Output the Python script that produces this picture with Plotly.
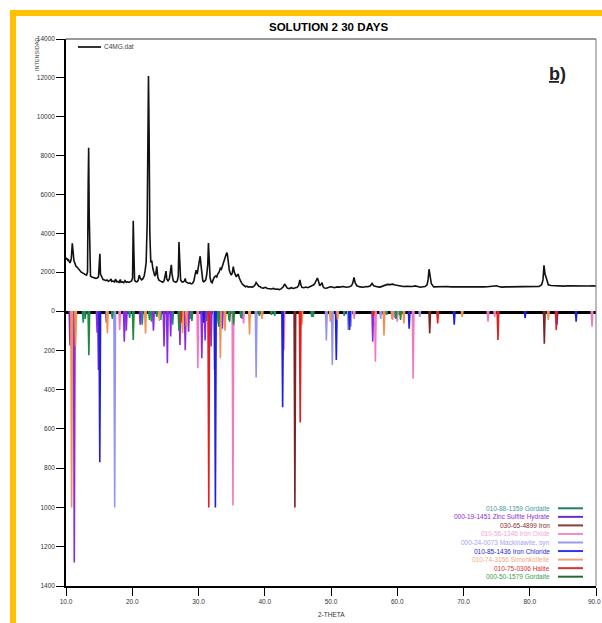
import plotly.graph_objects as go

# ---------------- data ----------------
two_theta = [
    10.0, 10.1, 10.2, 10.3, 10.4, 10.5, 10.6, 10.7, 10.8, 10.95,
    11.1, 11.2, 11.35, 11.5, 11.7, 11.9, 12.1, 12.3, 12.5, 12.7,
    12.9, 13.1, 13.25, 13.35, 13.42, 13.5, 13.6, 13.7, 13.9, 14.1,
    14.3, 14.5, 14.7, 14.9, 15.05, 15.12, 15.2, 15.4, 15.6, 15.8,
    16.0, 16.2, 16.4, 16.6, 16.8, 16.9, 17.1, 17.3, 17.5, 17.6,
    17.8, 18.0, 18.2, 18.3, 18.5, 18.7, 18.9, 19.1, 19.3, 19.5,
    19.7, 19.9, 20.05, 20.15, 20.25, 20.35, 20.5, 20.7, 20.9, 21.05,
    21.2, 21.4, 21.6, 21.8, 21.95, 22.1, 22.25, 22.35, 22.45, 22.55,
    22.65, 22.8, 22.95, 23.1, 23.25, 23.4, 23.55, 23.7, 23.85, 24.0,
    24.2, 24.4, 24.6, 24.8, 24.95, 25.1, 25.2, 25.4, 25.6, 25.8,
    25.9, 26.0, 26.2, 26.4, 26.6, 26.8, 26.95, 27.05, 27.15, 27.3,
    27.5, 27.7, 27.9, 28.0, 28.1, 28.3, 28.5, 28.7, 28.9, 29.1,
    29.3, 29.5, 29.65, 29.8, 29.95, 30.1, 30.25, 30.4, 30.5, 30.65,
    30.8, 30.95, 31.1, 31.25, 31.4, 31.5, 31.6, 31.75, 31.9, 32.05,
    32.2, 32.4, 32.6, 32.75, 32.9, 33.1, 33.3, 33.45, 33.6, 33.8,
    33.95, 34.1, 34.25, 34.35, 34.5, 34.65, 34.8, 34.95, 35.1, 35.25,
    35.4, 35.55, 35.7, 35.85, 36.0, 36.15, 36.3, 36.5, 36.7, 36.9,
    37.1, 37.3, 37.5, 37.7, 37.9, 38.1, 38.3, 38.5, 38.7, 38.9,
    39.1, 39.3, 39.5, 39.8, 40.1, 40.4, 40.7, 41.0, 41.3, 41.6,
    41.9, 42.2, 42.5, 42.8, 43.0, 43.2, 43.4, 43.7, 44.0, 44.3,
    44.6, 44.9, 45.1, 45.3, 45.45, 45.6, 45.9, 46.2, 46.5, 46.8,
    47.1, 47.4, 47.6, 47.8, 47.95, 48.1, 48.3, 48.5, 48.65, 48.8,
    49.0, 49.3, 49.6, 49.9, 50.2, 50.5, 50.9, 51.3, 51.8, 52.3,
    52.8, 53.1, 53.3, 53.47, 53.65, 53.9, 54.4, 54.9, 55.3, 55.6,
    55.95, 56.2, 56.45, 56.8, 57.1, 57.4, 57.8, 58.15, 58.5, 58.9,
    59.3, 59.7, 60.2, 60.6, 60.9, 61.4, 61.9, 62.3, 62.7, 63.1,
    63.5, 63.9, 64.2, 64.5, 64.65, 64.8, 64.95, 65.15, 65.5, 66.0,
    66.5, 67.0, 67.5, 68.1, 68.8, 69.4, 70.0, 70.7, 71.5, 72.2,
    73.0, 73.6, 74.3, 74.75, 75.0, 75.3, 75.8, 76.4, 77.1, 77.8,
    78.6, 79.3, 80.1, 80.8, 81.4, 81.8, 82.0, 82.15, 82.3, 82.5,
    82.8, 83.2, 83.6, 84.3, 85.1, 85.8, 86.6, 87.3, 88.1, 88.9,
    89.5, 90.0,
]
intensity = [
    2750, 2650, 2700, 2580, 2620, 2500, 2480, 2560, 2700, 3480,
    2620, 2580, 2450, 2300, 2250, 2150, 2060, 2000, 1960, 1900,
    1880, 1850, 2000, 6500, 8400, 5000, 1950, 1800, 1750, 1720,
    1700, 1680, 1700, 1750, 2600, 2950, 1900, 1700, 1620, 1600,
    1560, 1600, 1530, 1560, 1650, 1520, 1540, 1500, 1640, 1500,
    1520, 1470, 1620, 1480, 1500, 1460, 1560, 1480, 1500, 1470,
    1520, 1550, 1700, 4650, 3000, 1600, 1520, 1500, 1580, 1850,
    1700, 1600, 1650, 1800, 2100, 2500, 4500, 9400, 12100, 9000,
    4000, 2500, 2600, 2200, 1900, 1800, 1900, 2300, 1750, 1600,
    1550, 1500, 1480, 1550, 1750, 2050, 1650, 1550, 1650, 2100,
    2380, 1900, 1550, 1500, 1480, 1550, 1800, 3550, 2400, 1600,
    1500, 1500, 1550, 1680, 1500, 1450, 1420, 1450, 1400, 1420,
    1550, 1900, 2100, 1900, 2150, 2500, 2820, 2300, 1800, 1550,
    1500, 1550, 1600, 1900, 2400, 3500, 2200, 1700, 1500, 1450,
    1600, 1750, 1800, 1750, 1900, 2000, 2200, 2150, 2300, 2500,
    2600, 2750, 3000, 2950, 2500, 2100, 1950, 1850, 1950, 2280,
    2000, 1800, 1750, 1850, 1900, 1700, 1550, 1450, 1350, 1320,
    1250, 1280, 1230, 1250, 1220, 1230, 1260, 1320, 1460, 1330,
    1270, 1250, 1200, 1180, 1220, 1160, 1150, 1130, 1160, 1120,
    1130, 1100, 1150, 1250, 1390, 1280, 1180, 1150, 1200, 1160,
    1180, 1220, 1300, 1600, 1350, 1220, 1200, 1230, 1200, 1250,
    1270, 1350, 1450, 1600, 1700, 1550, 1300, 1380, 1460, 1250,
    1180, 1170, 1230, 1250, 1240, 1200, 1240, 1230, 1260, 1220,
    1250, 1300, 1450, 1730, 1450, 1300, 1240, 1220, 1260, 1250,
    1300, 1420, 1300, 1250, 1240, 1230, 1290, 1330, 1370, 1360,
    1380, 1340, 1300, 1280, 1260, 1270, 1250, 1260, 1290, 1250,
    1220, 1250, 1260, 1350, 1600, 2150, 1700, 1400, 1240, 1250,
    1230, 1250, 1260, 1240, 1220, 1240, 1250, 1240, 1230, 1250,
    1240, 1250, 1260, 1280, 1300, 1260, 1230, 1240, 1240, 1260,
    1250, 1240, 1240, 1260, 1270, 1350, 1600, 2350, 1900, 1700,
    1350, 1310, 1300, 1290, 1280, 1300, 1290, 1300, 1300, 1290,
    1300, 1280,
]
assert len(two_theta) == len(intensity)

phase_names = [
    "010-88-1359 Gordaite",
    "000-19-1451 Zinc Sulfite Hydrate",
    "030-65-4899 Iron",
    "010-56-1346 Iron Oxide",
    "000-24-0073 Mackinawite, syn",
    "010-85-1436 Iron Chloride",
    "010-74-3156 Simonkolleite",
    "010-75-0306 Halite",
    "000-50-1579 Gordaite",
]
phase_positions = [
    [12.6, 17.0, 19.6, 21.5, 22.9, 24.3, 26.1, 28.8, 31.2, 33.0, 34.6, 36.4, 41.5, 47.1, 52.0, 58.4, 60.3],
    [10.6, 11.25, 14.7, 14.9, 16.1, 18.8, 19.1, 21.2, 23.2, 24.8, 25.3, 25.8, 27.2, 28.0, 28.5, 30.5, 31.0, 31.9, 33.6, 36.6, 56.3],
    [44.55, 64.9, 82.2],
    [18.1, 29.9, 35.2, 36.8, 42.9, 53.5, 56.7, 59.3, 60.0, 62.4, 73.7, 74.7, 89.4],
    [17.35, 32.4, 38.7, 49.3, 50.2, 52.6, 53.0, 57.5, 59.6, 63.4],
    [15.1, 30.8, 32.55, 42.7, 50.8, 52.8, 61.8, 68.6, 79.3, 84.1, 87.0],
    [10.85, 11.45, 16.25, 22.0, 24.1, 27.6, 28.2, 33.3, 34.0, 37.7, 39.6, 45.6, 49.9, 51.0, 58.0, 59.2, 61.0, 69.8, 82.8],
    [27.35, 31.55, 45.35, 56.4, 66.1, 75.2, 84.0],
    [12.9, 13.45, 17.0, 20.15, 22.6, 23.7, 27.05, 29.0, 33.05, 34.7, 35.3, 36.5, 39.2, 41.0, 47.3, 59.8, 60.5],
]
phase_intensities = [
    [60, 40, 35, 70, 55, 45, 70, 40, 50, 65, 45, 35, 25, 30, 25, 20, 20],
    [175, 1280, 110, 300, 60, 156, 100, 70, 100, 180, 266, 130, 173, 200, 105, 241, 150, 180, 90, 40, 156],
    [1000, 114, 166],
    [97, 292, 990, 63, 200, 40, 258, 45, 55, 345, 55, 30, 80],
    [1000, 300, 338, 150, 275, 97, 80, 40, 35, 30],
    [770, 60, 1000, 490, 250, 97, 90, 70, 37, 70, 55],
    [1000, 180, 113, 115, 50, 113, 80, 240, 100, 120, 40, 70, 55, 45, 125, 40, 63, 30, 45],
    [60, 1000, 568, 25, 63, 148, 97],
    [40, 225, 30, 148, 45, 30, 100, 50, 80, 55, 70, 30, 25, 20, 30, 40, 45],
]
phase_colors = ["#1e8a78", "#8a2be2", "#7a2525", "#f07ac0", "#9494f4",
                "#1f1fe0", "#f5904f", "#e81e1e", "#1f8a40"]
legend_text_colors = ["#3c9d9b", "#8f2bd8", "#8b2d2d", "#f2a6d2", "#a3a3ef",
                      "#2626d6", "#f4aa85", "#e02f2f", "#35a048"]
legend_line_colors = ["#1e7f6a", "#6b2bd0", "#8a3b3b", "#f08cc8", "#9a9af2",
                      "#3434f0", "#f5a078", "#d83232", "#226b35"]

x_ticks = [10, 20, 30, 40, 50, 60, 70, 80, 90]
x_tick_labels = ["10.0", "20.0", "30.0", "40.0", "50.0", "60.0", "70.0", "80.0", "90.0"]
top_ticks = [2000, 4000, 6000, 8000, 10000, 12000, 14000]
bottom_ticks = [0, 200, 400, 600, 800, 1000, 1200, 1400]

# ---------------- geometry ----------------
W, H = 602, 623
L, R, T, B = 66, 6, 39, 37
PW, PH = W - L - R, H - T - B


def px(x):
    return (x - L) / PW


def py(y):
    return (H - B - y) / PH


split = py(311)
FONT = "Arial, Liberation Sans, sans-serif"

fig = go.Figure()
fig.add_trace(go.Scatter(x=two_theta, y=intensity, mode="lines",
                         line=dict(color="#111111", width=1.6),
                         xaxis="x", yaxis="y", showlegend=False, hoverinfo="skip"))

hw = 0.12
for name, pos, ints, col in zip(phase_names, phase_positions, phase_intensities, phase_colors):
    xs, ys = [], []
    for p, v in zip(pos, ints):
        xs += [p - hw, p, p + hw, None]
        ys += [0, v, 0, None]
    fig.add_trace(go.Scatter(x=xs, y=ys, mode="lines", name=name,
                             line=dict(color=col, width=1.6),
                             xaxis="x2", yaxis="y2", showlegend=False, hoverinfo="skip"))

tickfont = dict(family=FONT, size=6.5, color="#333333")
# last x label (at the right edge) is drawn as an annotation so it stays inside the page
shown_x_labels = x_tick_labels[:-1] + [""]
fig.update_layout(
    width=W, height=H,
    margin=dict(l=L, r=R, t=T, b=B),
    paper_bgcolor="white", plot_bgcolor="white",
    showlegend=False,
    xaxis=dict(domain=[0, 1], range=[10, 90], anchor="y", showticklabels=False, ticks="",
               showgrid=False, zeroline=False, showline=True, linecolor="black", linewidth=2.5),
    yaxis=dict(domain=[split, 1], range=[0, 14000], tickvals=top_ticks,
               ticktext=[str(v) for v in top_ticks], ticks="outside", ticklen=8,
               tickcolor="black", tickfont=tickfont, showgrid=False, zeroline=False,
               showline=True, linecolor="black", linewidth=1.5),
    xaxis2=dict(domain=[0, 1], range=[10, 90], anchor="y2", tickvals=x_ticks,
                ticktext=shown_x_labels, ticks="outside", ticklen=8,
                tickcolor="black", tickfont=tickfont, showgrid=False, zeroline=False,
                showline=True, linecolor="black", linewidth=1.5),
    yaxis2=dict(domain=[0, split], range=[1400, 0], tickvals=bottom_ticks,
                ticktext=[str(v) for v in bottom_ticks], ticks="outside", ticklen=8,
                tickcolor="black", tickfont=tickfont, showgrid=False, zeroline=False,
                showline=True, linecolor="black", linewidth=1.5),
)

shapes = [
    # yellow frame
    dict(type="rect", xref="paper", yref="paper", x0=px(10), x1=px(602), y0=py(10), y1=py(16),
         fillcolor="#FFC000", line=dict(width=0), layer="above"),
    dict(type="rect", xref="paper", yref="paper", x0=px(10), x1=px(16), y0=py(10), y1=py(623),
         fillcolor="#FFC000", line=dict(width=0), layer="above"),
    # top and right border
    dict(type="line", xref="paper", yref="paper", x0=0, x1=1, y0=1, y1=1,
         line=dict(color="#333333", width=1)),
    dict(type="line", xref="paper", yref="paper", x0=1, x1=1, y0=0, y1=1,
         line=dict(color="#777777", width=1)),
    # C4MG.dat legend line
    dict(type="line", xref="paper", yref="paper", x0=px(78), x1=px(101), y0=py(47), y1=py(47),
         line=dict(color="#333333", width=2)),
]
annotations = [
    dict(text="<b>SOLUTION 2 30 DAYS</b>", xref="paper", yref="paper", x=px(328), y=py(27),
         showarrow=False, font=dict(family=FONT, size=11.5, color="black"),
         xanchor="center", yanchor="middle"),
    dict(text="<b><u>b)</u></b>", xref="paper", yref="paper", x=px(557), y=py(74),
         showarrow=False, font=dict(family=FONT, size=18, color="#222222"),
         xanchor="center", yanchor="middle"),
    dict(text="C4MG.dat", xref="paper", yref="paper", x=px(102), y=py(47),
         showarrow=False, font=dict(family=FONT, size=6.5, color="#444444"),
         xanchor="left", yanchor="middle"),
    dict(text="INTENSIDAD", xref="paper", yref="paper", x=px(37), y=py(55), textangle=-90,
         showarrow=False, font=dict(family=FONT, size=5.5, color="#444444"),
         xanchor="center", yanchor="middle"),
    dict(text="2-THETA", xref="paper", yref="paper", x=px(331), y=py(614),
         showarrow=False, font=dict(family=FONT, size=6.5, color="#333333"),
         xanchor="center", yanchor="middle"),
    dict(text=x_tick_labels[-1], xref="paper", yref="paper", x=px(602), y=py(601),
         showarrow=False, font=tickfont, xanchor="right", yanchor="middle",
         borderpad=0),
]
row0, dy = 508.3, 8.55
for i, name in enumerate(phase_names):
    yy = row0 + i * dy
    annotations.append(dict(text=name, xref="paper", yref="paper", x=px(552), y=py(yy),
                            showarrow=False, font=dict(family=FONT, size=6.5, color=legend_text_colors[i]),
                            xanchor="right", yanchor="middle"))
    shapes.append(dict(type="line", xref="paper", yref="paper", x0=px(558), x1=px(583),
                       y0=py(yy), y1=py(yy), line=dict(color=legend_line_colors[i], width=2)))

fig.update_layout(shapes=shapes, annotations=annotations)
fig.write_html(
    "out.html",
    config={"displayModeBar": False},
    post_script=("document.body.style.margin='0';document.body.style.overflow='hidden';"
                 "document.documentElement.style.overflow='hidden';"),
)
